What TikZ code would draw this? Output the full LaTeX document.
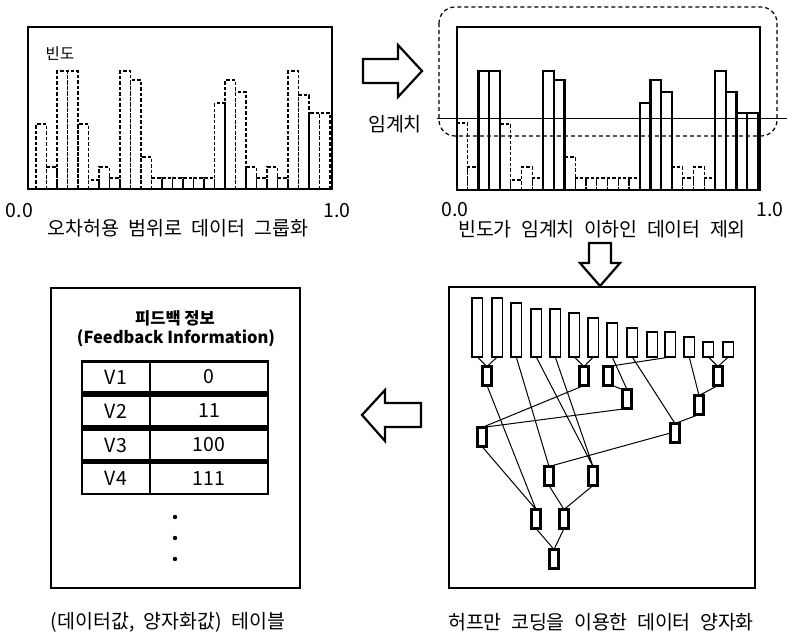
\documentclass[tikz,border=0pt]{standalone}
\usepackage{fontspec}
\setmainfont[WordSpace=2.1]{Noto Sans CJK KR}
\newfontfamily\krplain{Noto Sans CJK KR}
\begin{document}
\begin{tikzpicture}[x=1pt,y=-1pt,
  panel/.style={draw, line width=2.6pt},
  dbar/.style={dash pattern=on 3.5pt off 2pt, line width=1.1pt},
  sbar/.style={line width=2.4pt, line join=miter},
  tbar/.style={draw, line width=1.1pt, inner sep=0, outer sep=0, minimum width=10.5pt, anchor=south west},
  qn/.style={draw, line width=2.6pt, inner sep=0, outer sep=0, minimum width=9pt, minimum height=19pt},
  tl/.style={line width=1pt},
  cell/.style={draw, line width=2.6pt, inner sep=0, outer sep=0, minimum height=31pt, font=\fontsize{19.5}{21}\selectfont},
  arr/.style={draw, line width=2.2pt, line join=miter},
  lbl/.style={inner sep=0, font=\fontsize{19.5}{21}\selectfont},
  ttl/.style={inner sep=0, font=\fontsize{16.5}{19}\krplain\bfseries},
  vdot/.style={circle, fill, inner sep=0, minimum size=4.4pt}
]
\useasboundingbox[fill=white] (0,0) rectangle (787,635);

% ---------- panel 1 ----------
\draw[panel] (28,27) rectangle (332,189);
\foreach \i/\h in {0/124,1/167,2/71,3/71,4/124,5/180,6/167,7/178,8/71,9/80,10/157,11/178,12/178,13/178,14/178,15/178,16/178,17/103,18/80,19/92,20/167,21/178,22/167,23/178,24/71,25/95,26/113,27/113}
  \draw[dbar] ({36+\i*10.5},189) |- ({36+(\i+1)*10.5},\h) -- ({36+(\i+1)*10.5},189);
\node[inner sep=0, font=\fontsize{15.5}{17}\selectfont] (freq) at (60,54) {빈도};
\node[lbl] (p1a) at (19.5,211) {0.0};
\node[lbl] (p1b) at (337,211) {1.0};
\node[lbl] (cap1) at (178,228) {오차허용 범위로 데이터 그룹화};

% ---------- arrow right ----------
\draw[arr] (363,59) -- (398,59) -- (398,45) -- (422,71) -- (398,97) -- (398,83) -- (363,83) -- cycle;

% ---------- panel 2 ----------
\draw[panel] (457,27) rectangle (760,190);
\foreach \i/\h in {0/123,1/167,4/124,5/180,6/167,7/178,10/157,11/178,12/178,13/178,14/178,15/178,16/178,20/167,21/178,22/167,23/178}
  \draw[dbar] ({457+\i*10.75},190) |- ({457+(\i+1)*10.75},\h) -- ({457+(\i+1)*10.75},190);
\foreach \i/\h in {2/71,3/71,8/71,9/80,17/103,18/80,19/92,24/71,25/92,26/113,27/113}
  \draw[sbar] ({457+\i*10.75},190) |- ({457+(\i+1)*10.75},\h) -- ({457+(\i+1)*10.75},190);
\draw[line width=0.9pt] (437,118) -- (787,118);
\draw[dash pattern=on 4pt off 3pt, line width=1.2pt, rounded corners=16pt] (439,7) rectangle (777,136);
\node[lbl] (thr) at (395,124) {임계치};
\node[lbl] (p2a) at (455,210) {0.0};
\node[lbl] (p2b) at (770,210) {1.0};
\node[lbl] (cap2) at (602,229) {빈도가 임계치 이하인 데이터 제외};

% ---------- arrow down ----------
\draw[arr] (589,243) -- (611,243) -- (611,263) -- (620,263) -- (600,286) -- (580,263) -- (589,263) -- cycle;

% ---------- panel 3 (Huffman tree) ----------
\draw[panel] (449,287) rectangle (755,588);
\foreach \i/\xl/\t in {1/472/298,2/492/298,3/511/303,4/531/309,5/550/309,6/569/313,7/588/318,8/607/323,9/627/328,10/647/332,11/665/332,12/684/337,13/703/342,14/723/342}
  \node[tbar, minimum height={(357-\t)*1pt}] (b\i) at (\xl,357) {};
\node[qn] (n1) at (487,376) {};
\node[qn] (n2) at (584,376) {};
\node[qn] (n3) at (608,376) {};
\node[qn] (n4) at (718,376) {};
\node[qn] (n5) at (627,399) {};
\node[qn] (n6) at (699,405) {};
\node[qn] (n7) at (482,437) {};
\node[qn] (n8) at (675,433) {};
\node[qn] (n9) at (549,476) {};
\node[qn] (n10) at (593,476) {};
\node[qn] (n11) at (536,519) {};
\node[qn] (n12) at (564,519) {};
\node[qn] (n13) at (554,559) {};
\draw[tl] (b1.south) -- (n1.north) (b2.south) -- (n1.north);
\draw[tl] (b6.south) -- (n2.north) (b7.south) -- (n2.north);
\draw[tl] (b11.south) -- (n3.north);
\draw[tl] (b8.south) -- (n5.north) (n3.south east) -- (n5.north west);
\draw[tl] (b9.south) -- (n8.north);
\draw[tl] (b12.south) -- (n6.north);
\draw[tl] (b13.south) -- (n4.north) (b14.south) -- (n4.north);
\draw[tl] (n4.south) -- (n6.north) (n6.south) -- (n8.north);
\draw[tl] (n2.south) -- (n7.north) (n5.south) -- (n7.north);
\draw[tl] (n8.west) -- (n9.north) (b3.south) -- (n9.north);
\draw[tl] (b4.south) -- (n10.north) (b5.south) -- (n10.north);
\draw[tl] (n1.south) -- (n11.north) (n7.south) -- (n11.north);
\draw[tl] (n9.south) -- (n12.north) (n10.south) -- (n12.north);
\draw[tl] (n11.south) -- (n13.north) (n12.south) -- (n13.north);
\node[lbl] (cap3) at (601,622) {허프만 코딩을 이용한 데이터 양자화};

% ---------- arrow left ----------
\draw[arr] (421,403) -- (385,403) -- (385,390) -- (362,415) -- (385,441) -- (385,427) -- (421,427) -- cycle;

% ---------- panel 4 (table) ----------
\draw[panel] (51,288) rectangle (300,588);
\node[ttl] (t1) at (175,318) {피드백 정보};
\node[ttl] (t2) at (176,338) {(Feedback Information)};
\foreach \r/\yc/\k/\v in {1/377/V1/0, 2/411/V2/11, 3/445/V3/100, 4/478.5/V4/111}{
  \node[cell, minimum width=68pt] (k\r) at (116,\yc) {\k};
  \node[cell, minimum width=118pt] (v\r) at (209,\yc) {\v};
}
\node[vdot] (d1) at (175,517) {};
\node[vdot] (d2) at (175,538) {};
\node[vdot] (d3) at (175,559) {};
\node[lbl] (cap4) at (168,622) {(데이터값, 양자화값) 테이블};
\end{tikzpicture}
\end{document}
